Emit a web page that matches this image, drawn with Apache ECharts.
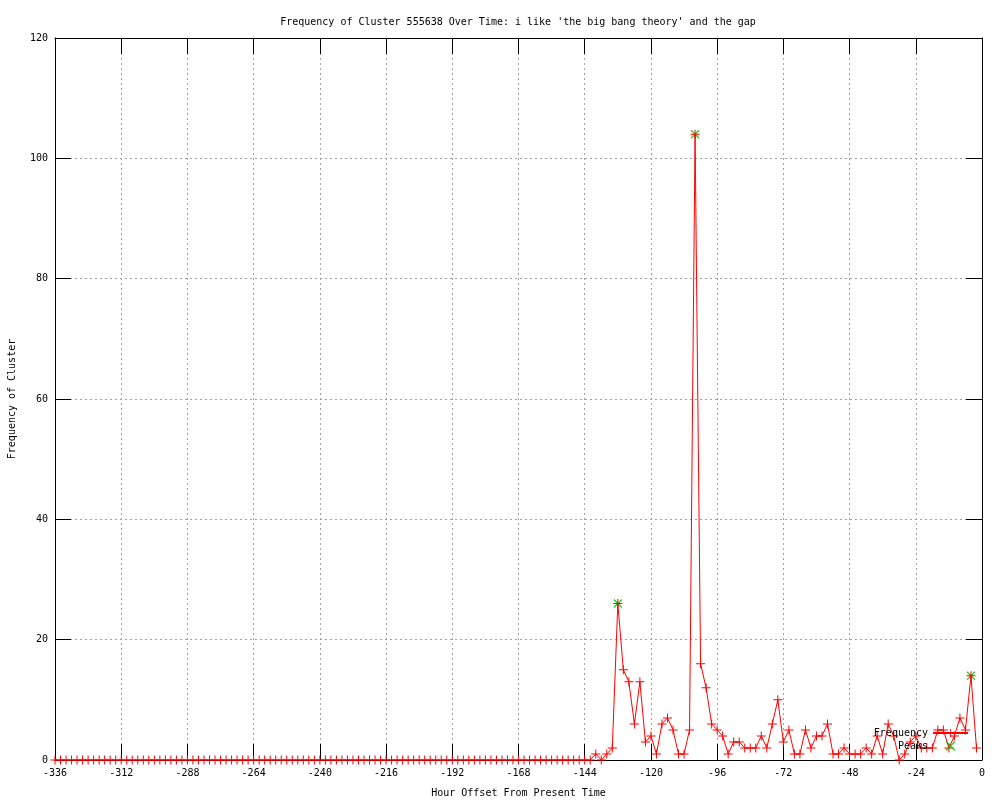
<!DOCTYPE html>
<html>
<head>
<meta charset="utf-8">
<script src="https://cdn.jsdelivr.net/npm/echarts@6/dist/echarts.min.js"></script>
<style>
  html, body { margin: 0; padding: 0; background: #fff; }
  #chart { width: 1000px; height: 800px; }
</style>
</head>
<body>
<div id="chart"></div>
<script>
// samples every 2 hours, starting at -336
var startHour = -336
var stepHours = 2
var frequency = [
  0, 0, 0, 0, 0, 0, 0, 0, 0, 0, 0, 0, 0, 0, 0, 0, 0, 0, 0, 0,
  0, 0, 0, 0, 0, 0, 0, 0, 0, 0, 0, 0, 0, 0, 0, 0, 0, 0, 0, 0,
  0, 0, 0, 0, 0, 0, 0, 0, 0, 0, 0, 0, 0, 0, 0, 0, 0, 0, 0, 0,
  0, 0, 0, 0, 0, 0, 0, 0, 0, 0, 0, 0, 0, 0, 0, 0, 0, 0, 0, 0,
  0, 0, 0, 0, 0, 0, 0, 0, 0, 0, 0, 0, 0, 0, 0, 0, 0,
  // -142 ..
  0, 1, 0, 1, 2, 26, 15, 13, 6, 13, 3, 4, 1, 6, 7, 5, 1, 1, 5, 104,
  16, 12, 6, 5, 4, 1, 3, 3, 2, 2, 2, 4, 2, 6, 10, 3, 5, 1, 1, 5,
  2, 4, 4, 6, 1, 1, 2, 1, 1, 1, 2, 1, 4, 1, 6, 4, 0, 1, 3, 4,
  2, 2, 2, 5, 5, 2, 4, 7, 5, 14, 2
]
var peakHours = [-132, -104, -4]
var peakValues = [26, 104, 14]

var xMin = -336, xMax = 0, xStep = 24
var yMin = 0, yMax = 120, yStep = 20

var freqData = []
for (var i = 0; i < frequency.length; i++) {
  freqData.push([startHour + i * stepHours, frequency[i]])
}
var peakData = []
for (var j = 0; j < peakHours.length; j++) {
  peakData.push([peakHours[j], peakValues[j]])
}

var font = 'DejaVu Sans Mono'
var plusPath = 'path://M0,4h9v1h-9z M4,0h1v9h-1z'
var crossPath = 'path://M0,1L1,0L9,8L8,9Z M8,0L9,1L1,9L0,8Z'

var chart = echarts.init(document.getElementById('chart'))
var option = {
  backgroundColor: '#fff',
  animation: false,
  title: {
    text: "Frequency of Cluster 555638 Over Time: i like 'the big bang theory' and the gap",
    left: 513,
    textAlign: 'center',
    top: 12,
    textStyle: { fontFamily: font, fontSize: 10, fontWeight: 'normal', color: '#000' }
  },
  legend: {
    orient: 'vertical',
    align: 'right',
    right: 31,
    top: 728,
    padding: 0,
    itemWidth: 35,
    itemHeight: 10,
    itemGap: 3,
    textStyle: { fontFamily: font, fontSize: 10, color: '#000' },
    data: ['Frequency', 'Peaks']
  },
  grid: { left: 55, right: 18, top: 38, bottom: 40, outerBoundsMode: 'none' },
  xAxis: [
    {
      type: 'value',
      min: xMin,
      max: xMax,
      interval: xStep,
      name: 'Hour Offset From Present Time',
      nameLocation: 'middle',
      nameGap: 28,
      nameTextStyle: { fontFamily: font, fontSize: 10, color: '#000' },
      axisLine: { show: true, onZero: false, lineStyle: { color: '#000', width: 1 } },
      axisTick: { show: true, inside: true, length: 16, lineStyle: { color: '#000' } },
      axisLabel: { fontFamily: font, fontSize: 10, color: '#000', margin: 8 },
      splitLine: { show: true, lineStyle: { color: '#a0a0a0', type: [2, 3], width: 1 } }
    },
    {
      type: 'value',
      position: 'top',
      min: xMin,
      max: xMax,
      interval: xStep,
      axisLine: { show: true, onZero: false, lineStyle: { color: '#000', width: 1 } },
      axisTick: { show: true, inside: true, length: 16, lineStyle: { color: '#000' } },
      axisLabel: { show: false },
      splitLine: { show: false }
    }
  ],
  yAxis: [
    {
      type: 'value',
      min: yMin,
      max: yMax,
      interval: yStep,
      name: 'Frequency of Cluster',
      nameLocation: 'middle',
      nameRotate: 90,
      nameGap: 38,
      nameTextStyle: { fontFamily: font, fontSize: 10, color: '#000' },
      axisLine: { show: true, onZero: false, lineStyle: { color: '#000', width: 1 } },
      axisTick: { show: true, inside: true, length: 16, lineStyle: { color: '#000' } },
      axisLabel: { fontFamily: font, fontSize: 10, color: '#000', margin: 7 },
      splitLine: { show: true, lineStyle: { color: '#a0a0a0', type: [2, 3], width: 1 } }
    },
    {
      type: 'value',
      position: 'right',
      min: yMin,
      max: yMax,
      interval: yStep,
      axisLine: { show: true, onZero: false, lineStyle: { color: '#000', width: 1 } },
      axisTick: { show: true, inside: true, length: 16, lineStyle: { color: '#000' } },
      axisLabel: { show: false },
      splitLine: { show: false }
    }
  ],
  series: [
    {
      name: 'Frequency',
      type: 'line',
      data: freqData,
      color: '#ff0000',
      symbol: plusPath,
      symbolSize: 9,
      showSymbol: true,
      showAllSymbol: true,
      lineStyle: { color: '#ff0000', width: 1 },
      itemStyle: { color: '#ff0000' },
      emphasis: { disabled: true },
      z: 3
    },
    {
      name: 'Peaks',
      type: 'scatter',
      data: peakData,
      color: '#00c000',
      symbol: crossPath,
      symbolSize: 9,
      itemStyle: { color: '#00c000' },
      emphasis: { disabled: true },
      z: 2
    }
  ]
}
chart.setOption(option)
</script>
</body>
</html>
